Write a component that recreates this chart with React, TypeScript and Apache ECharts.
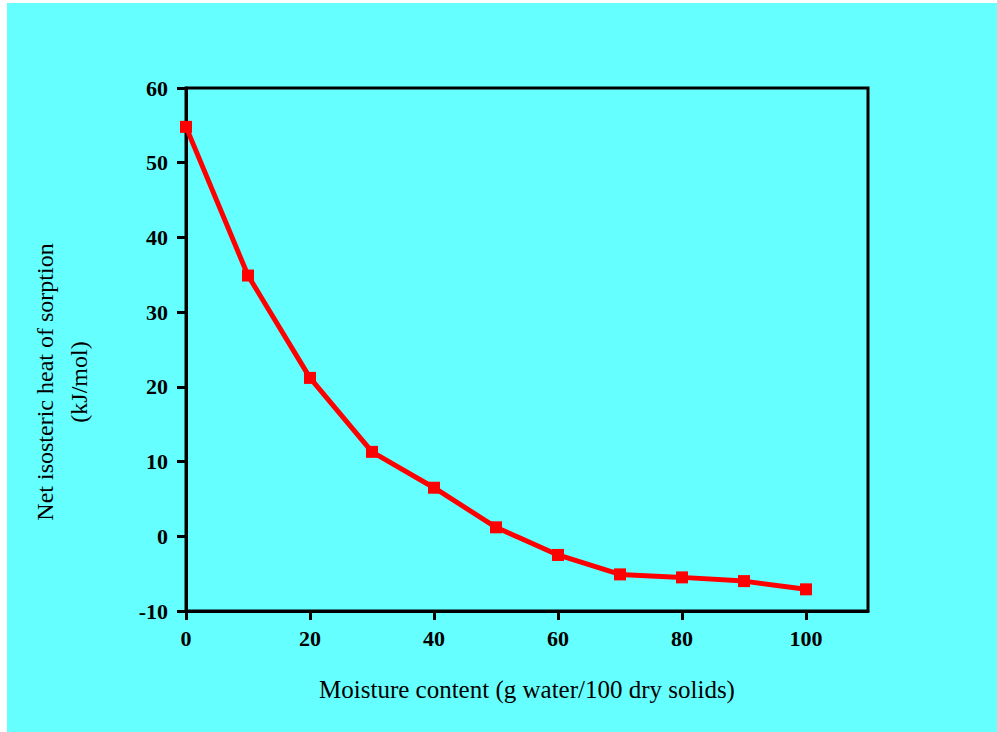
import React, { useEffect, useRef } from "react";
import * as echarts from "echarts";

const moisture = [0, 10, 20, 30, 40, 50, 60, 70, 80, 90, 100];
const heat = [54.8, 34.9, 21.2, 11.3, 6.5, 1.2, -2.5, -5.1, -5.5, -6.0, -7.1];
const xTicks = [0, 20, 40, 60, 80, 100];
const yTicks = [-10, 0, 10, 20, 30, 40, 50, 60];
const xTitle = "Moisture content (g water/100 dry solids)";
const yTitle1 = "Net isosteric heat of sorption";
const yTitle2 = "(kJ/mol)";

const FONT = "'Liberation Serif', 'Times New Roman', serif";

export default function App() {
  const ref = useRef<HTMLDivElement>(null);
  useEffect(() => {
    if (!ref.current) return;
    const chart = echarts.init(ref.current, undefined, { renderer: "svg" });
    chart.setOption({
      animation: false,
      backgroundColor: "#66ffff",
      grid: {
        left: 179,
        right: 129,
        top: 85,
        bottom: 121,
        show: true,
        borderColor: "#000",
        borderWidth: 3,
        backgroundColor: "transparent",
      },
      xAxis: {
        type: "value",
        min: 0,
        max: 110,
        interval: 10,
        name: xTitle,
        nameLocation: "middle",
        nameGap: 66,
        nameTextStyle: { fontFamily: FONT, fontSize: 25, color: "#000" },
        axisLine: { show: true, onZero: false, lineStyle: { color: "#000", width: 3 } },
        axisTick: {
          show: true,
          length: 9,
          customValues: xTicks,
          lineStyle: { color: "#000", width: 3 },
        },
        axisLabel: {
          customValues: xTicks,
          margin: 16,
          fontFamily: FONT,
          fontSize: 22,
          fontWeight: "bold",
          color: "#000",
        },
        splitLine: { show: false },
      },
      yAxis: {
        type: "value",
        min: -10,
        max: 60,
        interval: 10,
        axisLine: { show: true, onZero: false, lineStyle: { color: "#000", width: 3 } },
        axisTick: {
          show: true,
          length: 9,
          customValues: yTicks,
          lineStyle: { color: "#000", width: 3 },
        },
        axisLabel: {
          customValues: yTicks,
          margin: 18,
          fontFamily: FONT,
          fontSize: 22,
          fontWeight: "bold",
          color: "#000",
        },
        splitLine: { show: false },
      },
      graphic: [
        {
          type: "text",
          x: 38,
          y: 379,
          rotation: Math.PI / 2,
          style: {
            text: yTitle1,
            fontFamily: FONT,
            fontSize: 24,
            fill: "#000",
            textAlign: "center",
            textVerticalAlign: "middle",
          },
        },
        {
          type: "text",
          x: 72,
          y: 379,
          rotation: Math.PI / 2,
          style: {
            text: yTitle2,
            fontFamily: FONT,
            fontSize: 24,
            fill: "#000",
            textAlign: "center",
            textVerticalAlign: "middle",
          },
        },
      ],
      series: [
        {
          type: "line",
          data: moisture.map((m, i) => [m, heat[i]]),
          symbol: "rect",
          symbolSize: 12,
          showAllSymbol: true,
          lineStyle: { color: "#ff0000", width: 5 },
          itemStyle: { color: "#ff0000" },
        },
      ],
    });
    return () => chart.dispose();
  }, []);
  return (
    <div
      ref={ref}
      style={{ position: "fixed", left: 7, top: 3, width: 990, height: 729 }}
    />
  );
}
